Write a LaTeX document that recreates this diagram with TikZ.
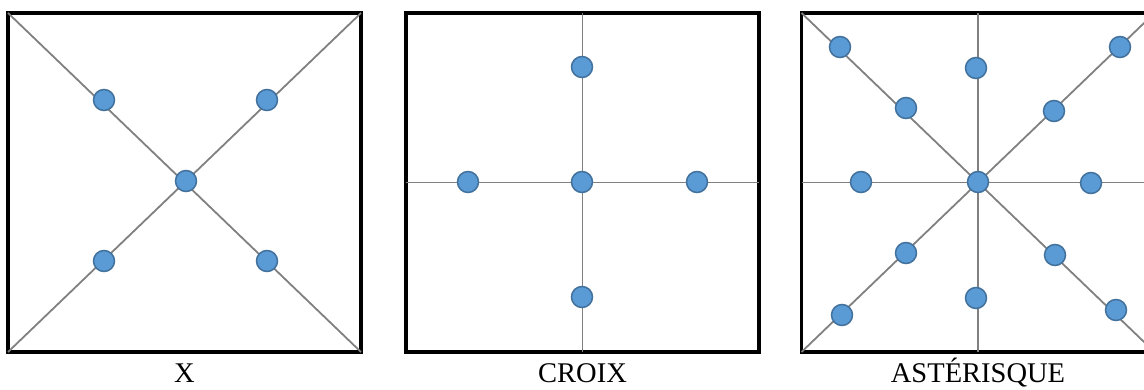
\documentclass[tikz,border=0pt]{standalone}
\usepackage{fontspec}
\setmainfont{Liberation Serif}
\usepackage{tikz}
\usetikzlibrary{calc}
\definecolor{dot-fill}{HTML}{5B9BD5}
\definecolor{dot-edge}{HTML}{41719C}
\definecolor{guide-grey}{HTML}{808080}
\tikzset{
  frame/.style={draw=black, line width=3.2pt, rectangle, inner sep=0pt, outer sep=0pt,
    minimum width=353pt, minimum height=339pt},
  guide/.style={guide-grey, line width=1.8pt},
  dot/.style={circle, fill=dot-fill, draw=dot-edge, line width=1.5pt, inner sep=0pt, minimum size=21pt},
  caption/.style={anchor=base, font=\fontsize{28.5}{34}\selectfont}
}

\begin{document}
\begin{tikzpicture}[x=1pt, y=-1pt]
    \useasboundingbox (0,0) rectangle (1144,389);
    \clip (0,0) rectangle (1144,389);
    % frames
    \node[frame] (sqX) at (184.5,182.5) {};
    \node[frame] (sqCroix) at (582.5,182.5) {};
    \node[frame] (sqAst) at (978,182.5) {};
    % guide lines
    \draw[guide] (sqX.north west) -- (sqX.south east);
    \draw[guide] (sqX.north east) -- (sqX.south west);
    \draw[guide] (sqCroix.west) -- (sqCroix.east);
    \draw[guide] (sqCroix.north) -- (sqCroix.south);
    \draw[guide] (sqAst.north west) -- (sqAst.south east);
    \draw[guide] (sqAst.north east) -- (sqAst.south west);
    \draw[guide] (sqAst.west) -- (sqAst.east);
    \draw[guide] (sqAst.north) -- (sqAst.south);
    % X
    \node[dot] (x-c) at (186,181) {};
    \node[dot] (x-nw) at (104,100) {};
    \node[dot] (x-ne) at (267,100) {};
    \node[dot] (x-sw) at (104,261) {};
    \node[dot] (x-se) at (267,261) {};
    % CROIX
    \node[dot] (cr-c) at (582,182) {};
    \node[dot] (cr-n) at (582,67) {};
    \node[dot] (cr-w) at (468,182) {};
    \node[dot] (cr-e) at (697,182) {};
    \node[dot] (cr-s) at (582,297) {};
    % ASTERISQUE
    \node[dot] (as-c) at (978,182) {};
    \node[dot] (as-n) at (976,68) {};
    \node[dot] (as-s) at (976,298) {};
    \node[dot] (as-w) at (861,182) {};
    \node[dot] (as-e) at (1091,183) {};
    \node[dot] (as-nw1) at (906,108) {};
    \node[dot] (as-nw2) at (840,47) {};
    \node[dot] (as-ne1) at (1054,111) {};
    \node[dot] (as-ne2) at (1120,47) {};
    \node[dot] (as-sw1) at (906,253) {};
    \node[dot] (as-sw2) at (842,315) {};
    \node[dot] (as-se1) at (1055,255) {};
    \node[dot] (as-se2) at (1116,310) {};
    % captions
    \node[caption] (lbl-x) at (184.5,382) {X};
    \node[caption] (lbl-croix) at (582.5,382) {CROIX};
    \node[caption] (lbl-ast) at (978,382) {ASTÉRISQUE};
\end{tikzpicture}
\end{document}
